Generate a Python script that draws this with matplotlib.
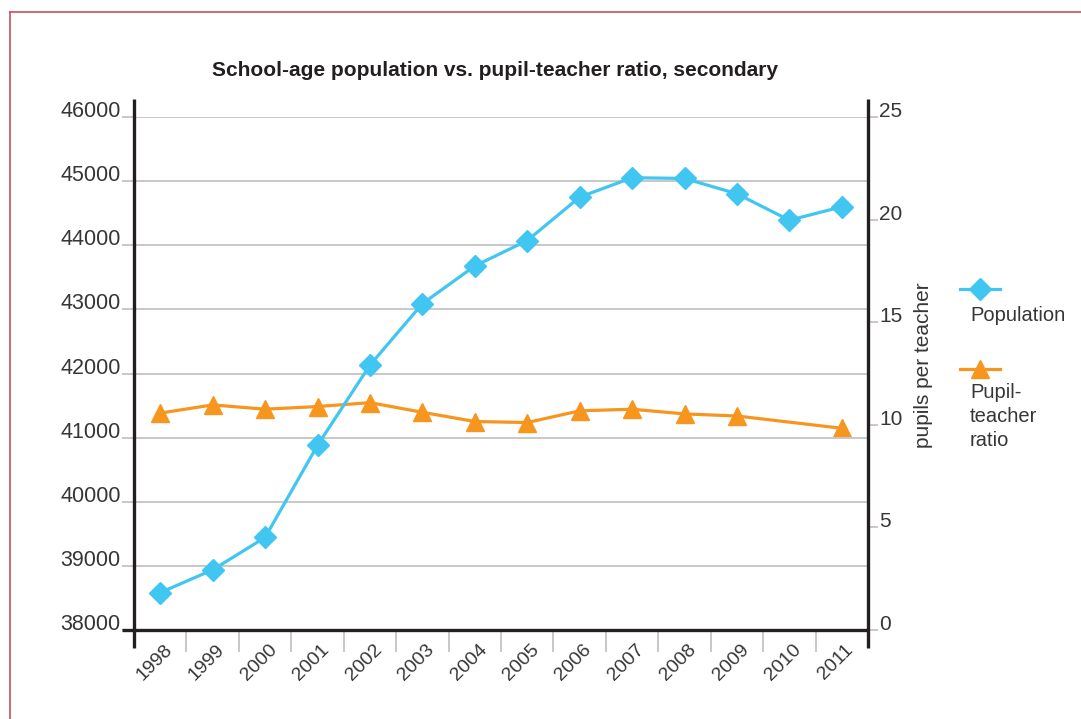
import numpy as np
import matplotlib
matplotlib.use("Agg")
import matplotlib.pyplot as plt
import matplotlib.transforms as mtransforms
from matplotlib.lines import Line2D

plt.rcParams['font.family'] = ['Liberation Sans', 'DejaVu Sans']

years = ['1998', '1999', '2000', '2001', '2002', '2003', '2004',
         '2005', '2006', '2007', '2008', '2009', '2010', '2011']
population = [38583, 38938, 39443, 40880, 42130, 43088, 43677,
              44073, 44750, 45053, 45042, 44803, 44390, 44600]
# 2010 has no ratio value; the line joins 2009 to 2011
pupil_teacher = [10.57, 10.97, 10.76, 10.89, 11.08, 10.61, 10.16,
                 10.11, 10.68, 10.76, 10.53, 10.43, np.nan, 9.83]

left_ticks = [38000, 39000, 40000, 41000, 42000, 43000, 44000, 45000, 46000]
right_ticks = [0, 5, 10, 15, 20, 25]

BLUE = '#41c6f2'
ORANGE = '#f7961f'
DARK = '#231f20'
GRID = '#c8c8c8'
TEXT = '#363636'

W, H = 1081, 719
fig = plt.figure(figsize=(W / 100, H / 100), dpi=100)
ax = fig.add_axes([134 / W, 89 / H, 734 / W, 513 / H])
ax2 = ax.twinx()
ax.set_zorder(ax2.get_zorder() + 1)
ax.patch.set_visible(False)

x = np.arange(len(years))
ratio = np.array(pupil_teacher)
ok = ~np.isnan(ratio)

ax2.plot(x[ok], ratio[ok], color=ORANGE, lw=2.3, marker='^', ms=13,
         mec=ORANGE, mfc=ORANGE)
ax.plot(x, population, color=BLUE, lw=2.3, marker='D', ms=11.5,
        mec=BLUE, mfc=BLUE)

ax.set_xlim(-0.5, len(years) - 0.5)
ax.set_ylim(left_ticks[0], left_ticks[-1])
ax2.set_ylim(right_ticks[0], right_ticks[-1])

for a in (ax, ax2):
    for s in a.spines.values():
        s.set_visible(False)

# gridlines and axis ticks
ax.set_yticks(left_ticks)
ax.yaxis.grid(True, color=GRID, lw=1.4)
ax.set_axisbelow(True)
ax.tick_params(axis='y', length=8.6, width=1.4, color=GRID, pad=1,
               labelsize=15.5, labelcolor=TEXT)
for lab in ax.get_yticklabels():
    lab.set_verticalalignment('baseline')

ax2.set_yticks(right_ticks)
ax2.tick_params(axis='y', length=7, width=1.4, color=GRID, pad=1,
                labelsize=15, labelcolor=TEXT)
for lab in ax2.get_yticklabels():
    lab.set_verticalalignment('baseline')
ax2.set_ylabel('pupils per teacher', fontsize=15, color=TEXT)
ax2.yaxis.set_label_coords(1.062, 0.517)

ax.set_xticks(x)
ax.set_xticklabels(years, rotation=45, ha='center', fontsize=14, color=TEXT)
ax.tick_params(axis='x', length=0, pad=8)
shift = mtransforms.ScaledTranslation(-0.06, 0, fig.dpi_scale_trans)
for lab in ax.get_xticklabels():
    lab.set_transform(lab.get_transform() + shift)
ax.set_xticks(x[:-1] + 0.5, minor=True)
ax.tick_params(axis='x', which='minor', length=16, width=1.4, color=GRID)

# heavy axis lines, extending past the plot area
ext_y = 18 / 513
ext_x = 12 / 734
for xs in (0, 1):
    ax.plot([xs, xs], [-ext_y, 1 + ext_y], color=DARK, lw=2.4,
            transform=ax.transAxes, clip_on=False, solid_capstyle='butt')
ax.plot([-ext_x, 1], [0, 0], color=DARK, lw=2.4, transform=ax.transAxes,
        clip_on=False, solid_capstyle='butt')

fig.text(495 / W, 1 - 71 / H,
         'School-age population vs. pupil-teacher ratio, secondary',
         ha='center', va='center', fontsize=15, fontweight='bold', color=DARK)

# legend, handle above label
def legend_entry(y_line, marker, ms, color, label, y_text):
    fig.add_artist(Line2D([960 / W, 1000 / W], [1 - y_line / H] * 2,
                          color=color, lw=2.3))
    fig.add_artist(Line2D([980 / W], [1 - y_line / H], marker=marker, ms=ms,
                          color=color, mec=color, mfc=color))
    fig.text(970 / W, 1 - y_text / H, label, ha='left', va='top',
             fontsize=14.5, color=TEXT, linespacing=1.32)

legend_entry(289, 'D', 11.5, BLUE, 'Population', 306)
legend_entry(369, '^', 13, ORANGE, 'Pupil-\nteacher\nratio', 383)

# page frame (top and left edges)
frame = '#c9505e'
fig.add_artist(Line2D([10 / W, 10 / W], [0, 1 - 12 / H], color=frame, lw=1.2))
fig.add_artist(Line2D([10 / W, 1], [1 - 12 / H] * 2, color=frame, lw=1.2))

fig.savefig('out.png', dpi=100)
